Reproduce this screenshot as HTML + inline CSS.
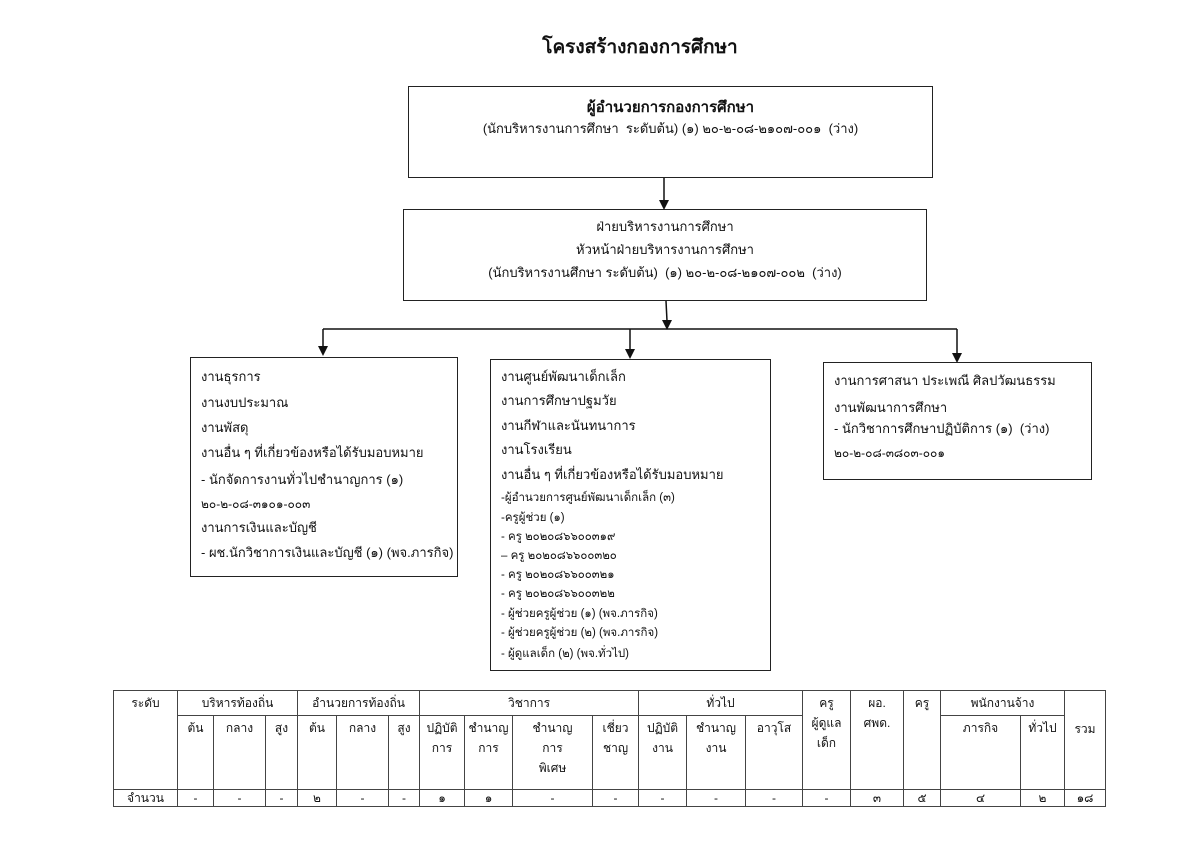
<!DOCTYPE html>
<html><head><meta charset="utf-8">
<style>
body{margin:0;width:1200px;height:849px;background:#fff;position:relative;font-family:"Liberation Sans","DejaVu Sans",sans-serif;color:#111;overflow:hidden}
.b{position:absolute;border:1.3px solid #222;box-sizing:border-box}
.t{position:absolute;white-space:nowrap;font-size:13px;line-height:16px}
.c{text-align:center}
svg{position:absolute;left:0;top:0}
table{position:absolute;left:113px;top:690px;border-collapse:collapse;font-size:12px;table-layout:fixed}
td{border:1px solid #444;text-align:center;vertical-align:top;padding:2px 0;line-height:20px}
</style></head><body>
<div class="t c" style="left:0;width:1280px;top:36px;font-size:19px;line-height:24px;font-weight:bold">โครงสร้างกองการศึกษา</div>

<div class="b" style="left:408px;top:86px;width:525px;height:92px"></div>
<div class="t c" style="left:408px;width:525px;top:98px;font-size:15px;font-weight:bold;line-height:20px">ผู้อำนวยการกองการศึกษา</div>
<div class="t c" style="left:408px;width:525px;top:121px">(นักบริหารงานการศึกษา &nbsp;ระดับต้น) (๑) ๒๐-๒-๐๘-๒๑๐๗-๐๐๑ &nbsp;(ว่าง)</div>

<div class="b" style="left:403px;top:209px;width:524px;height:92px"></div>
<div class="t c" style="left:403px;width:524px;top:219px">ฝ่ายบริหารงานการศึกษา</div>
<div class="t c" style="left:403px;width:524px;top:242px">หัวหน้าฝ่ายบริหารงานการศึกษา</div>
<div class="t c" style="left:403px;width:524px;top:265px">(นักบริหารงานศึกษา ระดับต้น) &nbsp;(๑) ๒๐-๒-๐๘-๒๑๐๗-๐๐๒ &nbsp;(ว่าง)</div>

<svg width="1200" height="849">
<g stroke="#111" stroke-width="1.5" fill="none">
<line x1="664" y1="178" x2="664" y2="201"/>
<line x1="666" y1="301" x2="667" y2="321"/>
<line x1="323" y1="329" x2="957" y2="329"/>
<line x1="323" y1="329" x2="323" y2="347"/>
<line x1="630" y1="329" x2="630" y2="350"/>
<line x1="957" y1="329" x2="957" y2="354"/>
</g>
<g fill="#111">
<polygon points="659,200 669,200 664,210"/>
<polygon points="662,320 672,320 667,330"/>
<polygon points="318,346 328,346 323,356"/>
<polygon points="625,349 635,349 630,359"/>
<polygon points="952,353 962,353 957,363"/>
</g>
</svg>

<div class="b" style="left:190px;top:357px;width:268px;height:220px"></div>
<div class="t" style="left:201px;top:369px">งานธุรการ</div>
<div class="t" style="left:201px;top:395px">งานงบประมาณ</div>
<div class="t" style="left:201px;top:420px">งานพัสดุ</div>
<div class="t" style="left:201px;top:445px">งานอื่น ๆ ที่เกี่ยวข้องหรือได้รับมอบหมาย</div>
<div class="t" style="left:201px;top:472px">- นักจัดการงานทั่วไปชำนาญการ (๑)</div>
<div class="t" style="left:201px;top:496px;font-size:12px">๒๐-๒-๐๘-๓๑๐๑-๐๐๓</div>
<div class="t" style="left:201px;top:520px">งานการเงินและบัญชี</div>
<div class="t" style="left:201px;top:545px">- ผช.นักวิชาการเงินและบัญชี (๑) (พจ.ภารกิจ)</div>

<div class="b" style="left:490px;top:359px;width:281px;height:312px"></div>
<div class="t" style="left:501px;top:369px">งานศูนย์พัฒนาเด็กเล็ก</div>
<div class="t" style="left:501px;top:393px">งานการศึกษาปฐมวัย</div>
<div class="t" style="left:501px;top:418px">งานกีฬาและนันทนาการ</div>
<div class="t" style="left:501px;top:442px">งานโรงเรียน</div>
<div class="t" style="left:501px;top:467px">งานอื่น ๆ ที่เกี่ยวข้องหรือได้รับมอบหมาย</div>
<div class="t" style="left:501px;top:490px;font-size:11.5px">-ผู้อำนวยการศูนย์พัฒนาเด็กเล็ก (๓)</div>
<div class="t" style="left:501px;top:510px;font-size:11.5px">-ครูผู้ช่วย (๑)</div>
<div class="t" style="left:501px;top:529px;font-size:11.5px">- ครู ๒๐๒๐๘๖๖๐๐๓๑๙</div>
<div class="t" style="left:501px;top:548px;font-size:11.5px">– ครู ๒๐๒๐๘๖๖๐๐๓๒๐</div>
<div class="t" style="left:501px;top:567px;font-size:11.5px">- ครู ๒๐๒๐๘๖๖๐๐๓๒๑</div>
<div class="t" style="left:501px;top:586px;font-size:11.5px">- ครู ๒๐๒๐๘๖๖๐๐๓๒๒</div>
<div class="t" style="left:501px;top:606px;font-size:11.5px">- ผู้ช่วยครูผู้ช่วย (๑) (พจ.ภารกิจ)</div>
<div class="t" style="left:501px;top:625px;font-size:11.5px">- ผู้ช่วยครูผู้ช่วย (๒) (พจ.ภารกิจ)</div>
<div class="t" style="left:501px;top:646px;font-size:11.5px">- ผู้ดูแลเด็ก (๒) (พจ.ทั่วไป)</div>

<div class="b" style="left:823px;top:362px;width:269px;height:118px"></div>
<div class="t" style="left:834px;top:373px">งานการศาสนา ประเพณี ศิลปวัฒนธรรม</div>
<div class="t" style="left:834px;top:400px">งานพัฒนาการศึกษา</div>
<div class="t" style="left:834px;top:421px">- นักวิชาการศึกษาปฏิบัติการ (๑) &nbsp;(ว่าง)</div>
<div class="t" style="left:834px;top:445px;font-size:12px">๒๐-๒-๐๘-๓๘๐๓-๐๐๑</div>

<table>
<colgroup>
<col style="width:64px"><col style="width:36px"><col style="width:52px"><col style="width:32px"><col style="width:39px"><col style="width:52px"><col style="width:31px"><col style="width:45px"><col style="width:48px"><col style="width:80px"><col style="width:46px"><col style="width:48px"><col style="width:59px"><col style="width:57px"><col style="width:48px"><col style="width:53px"><col style="width:37px"><col style="width:80px"><col style="width:44px"><col style="width:41px">
</colgroup>
<tr style="height:21px"><td rowspan="2">ระดับ</td><td colspan="3">บริหารท้องถิ่น</td><td colspan="3">อำนวยการท้องถิ่น</td><td colspan="4">วิชาการ</td><td colspan="3">ทั่วไป</td><td rowspan="2">ครู<br>ผู้ดูแล<br>เด็ก</td><td rowspan="2">ผอ.<br>ศพด.</td><td rowspan="2">ครู</td><td colspan="2">พนักงานจ้าง</td><td rowspan="2" style="vertical-align:top;padding-top:28px">รวม</td></tr>
<tr style="height:74px"><td>ต้น</td><td>กลาง</td><td>สูง</td><td>ต้น</td><td>กลาง</td><td>สูง</td><td>ปฏิบัติ<br>การ</td><td>ชำนาญ<br>การ</td><td>ชำนาญ<br>การ<br>พิเศษ</td><td>เชี่ยว<br>ชาญ</td><td>ปฏิบัติ<br>งาน</td><td>ชำนาญ<br>งาน</td><td>อาวุโส</td><td>ภารกิจ</td><td>ทั่วไป</td></tr>
<tr style="height:17px"><td style="padding:0;line-height:16px">จำนวน</td><td style="padding:0;line-height:16px">-</td><td style="padding:0;line-height:16px">-</td><td style="padding:0;line-height:16px">-</td><td style="padding:0;line-height:16px">๒</td><td style="padding:0;line-height:16px">-</td><td style="padding:0;line-height:16px">-</td><td style="padding:0;line-height:16px">๑</td><td style="padding:0;line-height:16px">๑</td><td style="padding:0;line-height:16px">-</td><td style="padding:0;line-height:16px">-</td><td style="padding:0;line-height:16px">-</td><td style="padding:0;line-height:16px">-</td><td style="padding:0;line-height:16px">-</td><td style="padding:0;line-height:16px">-</td><td style="padding:0;line-height:16px">๓</td><td style="padding:0;line-height:16px">๕</td><td style="padding:0;line-height:16px">๔</td><td style="padding:0;line-height:16px">๒</td><td style="padding:0;line-height:16px">๑๘</td></tr>
</table>
</body></html>
